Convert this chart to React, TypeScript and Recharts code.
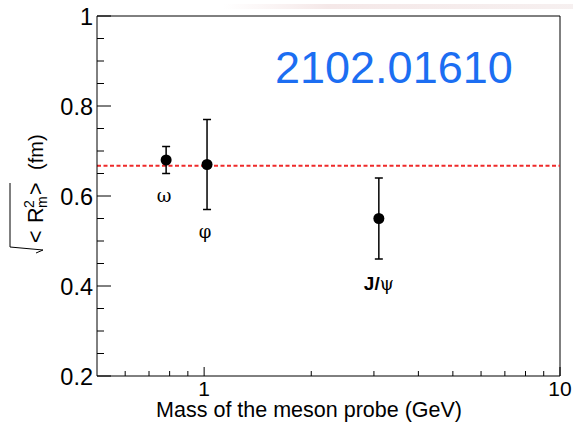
import React from "react"
import { ComposedChart, Scatter, ErrorBar, XAxis, YAxis, ReferenceLine } from "recharts"

const mesons = ["ω", "φ", "J/ψ"]
const masses = [0.782, 1.019, 3.097]
const radii = [0.68, 0.67, 0.55]
const errors = [0.03, 0.1, 0.09]
const avgRadius = 0.667

const xTicks = [0.6, 0.7, 0.8, 0.9, 1, 2, 3, 4, 5, 6, 7, 8, 9, 10]
const xLabels = [1, 10]
const yTicks = [0.2, 0.25, 0.3, 0.35, 0.4, 0.45, 0.5, 0.55, 0.6, 0.65, 0.7, 0.75, 0.8, 0.85, 0.9, 0.95, 1]
const yLabels = ["0.2", "0.4", "0.6", "0.8", "1"]

const rows = mesons.map((name, i) => ({ name, mass: masses[i], radius: radii[i], err: errors[i] }))

const sans = "'Liberation Sans', Arial, Helvetica, sans-serif"
const serif = "'DejaVu Serif', 'Liberation Serif', serif"

// px per unit on y, used to put the meson name under its error bar
const PX_PER_Y = 450

function XTick(props: any) {
  const { x, y, payload } = props
  const major = xLabels.includes(payload.value)
  return (
    <g>
      <line x1={x} x2={x} y1={y} y2={y - (major ? 9 : 5)} stroke="#000" />
      {major && (
        <text x={x} y={y + 20} textAnchor="middle" fontSize={21} fontFamily={sans} fill="#000">
          {payload.value}
        </text>
      )}
    </g>
  )
}

function YTick(props: any) {
  const { x, y, payload } = props
  const label = yLabels.find((l) => Math.abs(Number(l) - payload.value) < 1e-6)
  return (
    <g>
      <line x1={x} x2={x + (label ? 14 : 7)} y1={y} y2={y} stroke="#000" />
      {label && (
        <text x={x - 4} y={y + 9} textAnchor="end" fontSize={23.5} fontFamily={sans} fill="#000">
          {label}
        </text>
      )}
    </g>
  )
}

function MesonPoint(props: any) {
  const { cx, cy, payload } = props
  const ly = cy + payload.err * PX_PER_Y + 28
  const isJpsi = payload.name === "J/ψ"
  return (
    <g>
      <circle cx={cx} cy={cy} r={5.5} fill="#000" />
      {isJpsi ? (
        <text x={cx} y={ly + 3} textAnchor="middle" fontSize={19} fill="#000">
          <tspan fontFamily={sans} fontWeight="bold">J/</tspan>
          <tspan fontFamily={serif} fontSize={18}>ψ</tspan>
        </text>
      ) : (
        <text x={cx - 2} y={ly} textAnchor="middle" fontSize={18} fontFamily={serif} fill="#000">
          {payload.name}
        </text>
      )}
    </g>
  )
}

export default function App() {
  return (
    <div style={{ position: "absolute", left: 0, top: 0, width: 573, height: 432, background: "#fff" }}>
      <ComposedChart width={573} height={432} data={rows} margin={{ top: 16, right: 13, left: 0, bottom: 0 }}>
        <XAxis
          dataKey="mass"
          type="number"
          scale="log"
          domain={[0.5, 10]}
          allowDataOverflow
          ticks={xTicks}
          interval={0}
          tickSize={0}
          tickMargin={0}
          tick={XTick}
          height={56}
          axisLine={{ stroke: "#000" }}
        />
        <YAxis
          type="number"
          domain={[0.2, 1]}
          allowDataOverflow
          ticks={yTicks}
          interval={0}
          tickSize={0}
          tickMargin={0}
          tick={YTick}
          width={97}
          axisLine={{ stroke: "#000" }}
        />
        <ReferenceLine y={1} stroke="#000" />
        <ReferenceLine x={10} stroke="#000" />
        <ReferenceLine y={avgRadius} stroke="#ee2a2a" strokeWidth={2} strokeDasharray="4 2.5" />
        <Scatter dataKey="radius" fill="#000" shape={MesonPoint} isAnimationActive={false}>
          <ErrorBar dataKey="err" direction="y" width={4} stroke="#000" strokeWidth={1.5} />
        </Scatter>
      </ComposedChart>
      <svg width={573} height={432} style={{ position: "absolute", left: 0, top: 0, pointerEvents: "none" }}>
        <defs>
          <linearGradient id="band" x1="0" x2="1" y1="0" y2="0">
            <stop offset="0" stopColor="#f4e4e4" stopOpacity={0} />
            <stop offset="0.3" stopColor="#f2e2e2" stopOpacity={0.8} />
            <stop offset="1" stopColor="#f4ecec" stopOpacity={0.8} />
          </linearGradient>
        </defs>
        <rect x={223} y={4} width={350} height={5} fill="url(#band)" />
        <text x={275} y={83} fontSize={45} fontFamily={sans} fill="#1c6ef2">
          2102.01610
        </text>
        <text x={462} y={417} textAnchor="end" fontSize={21.5} fontFamily={sans} fill="#000">
          Mass of the meson probe (GeV)
        </text>
        <g transform="translate(43, 250) rotate(-90)" fontFamily={sans} fill="#000">
          <path d="M 67,-33 L 3,-33 L 0,0 L -3,-7" fill="none" stroke="#000" strokeWidth={1} />
          <text x={7} y={0} fontSize={21.5}>&lt;</text>
          <text x={27} y={0} fontSize={21.5}>R</text>
          <text x={42} y={-9} fontSize={14}>2</text>
          <text x={42} y={4} fontSize={14}>m</text>
          <text x={55} y={0} fontSize={21.5}>&gt;</text>
          <text x={80} y={0} fontSize={20}>(fm)</text>
        </g>
      </svg>
    </div>
  )
}
